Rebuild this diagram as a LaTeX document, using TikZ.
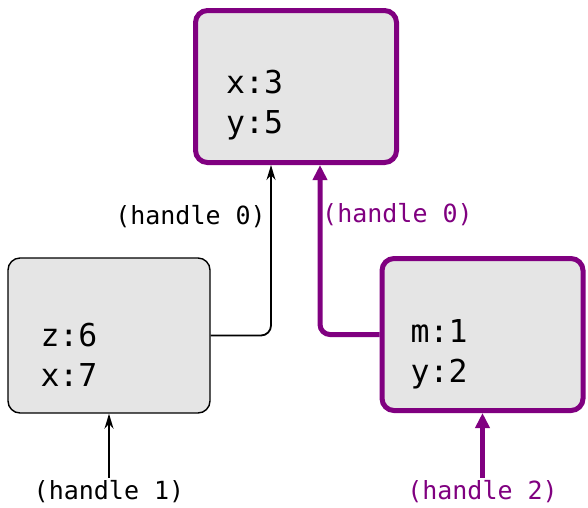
\documentclass[tikz,border=0pt]{standalone}
\usepackage{fontspec}
\setmonofont{DejaVu Sans Mono}
\usetikzlibrary{arrows.meta,calc}
\definecolor{hpurple}{RGB}{128,0,128}
\tikzset{
  cell/.style={draw, fill=black!10, rounded corners=12pt, minimum width=202pt, minimum height=155pt, line width=1.4pt, inner sep=0pt},
  live/.style={draw=hpurple, line width=5pt, minimum width=201pt, minimum height=152pt},
  vals/.style={font=\ttfamily\fontsize{31.5}{40}\selectfont, align=left, anchor=west, inner sep=0pt},
  hlabel/.style={font=\ttfamily\fontsize{25}{30}\selectfont, inner sep=0pt},
  ptr/.style={-{Stealth[length=15pt,width=9pt]}, line width=1.8pt, rounded corners=10pt},
  liveptr/.style={hpurple, -{Triangle[length=15pt,width=14pt]}, line width=5pt, rounded corners=10pt},
}
\begin{document}
\begin{tikzpicture}[x=1pt,y=-1pt]
\useasboundingbox (0,0) rectangle (588,507);
% boxes
\node[cell,live] (top) at (296,86.5) {};
\node[cell] (left) at (109,335.5) {};
\node[cell,live] (right) at (482.5,334.5) {};
\node[vals] (topvals) at ($(top.west)+(33,18.5)$) {x:3\\y:5};
\node[vals] (leftvals) at ($(left.west)+(33,19)$) {z:6\\x:7};
\node[vals] (rightvals) at ($(right.west)+(31,20)$) {m:1\\y:2};
% handles
\node[hlabel] (h1) at (109,492) {(handle 1)};
\node[hlabel,text=hpurple] (h2) at (482.5,492) {(handle 2)};
\node[hlabel,anchor=east] (lbl0) at (266,217) {(handle 0)};
\node[hlabel,anchor=west,text=hpurple] (plbl0) at (322,215) {(handle 0)};
% pointers
\draw[ptr] (left.east) -| ([xshift=-25pt]top.south);
\draw[liveptr] (right.west) -| ([xshift=24pt]top.south);
\draw[ptr,shorten <=3pt] (h1.north) -- (left.south);
\draw[liveptr,shorten <=3pt] (h2.north) -- (right.south);
\end{tikzpicture}
\end{document}
